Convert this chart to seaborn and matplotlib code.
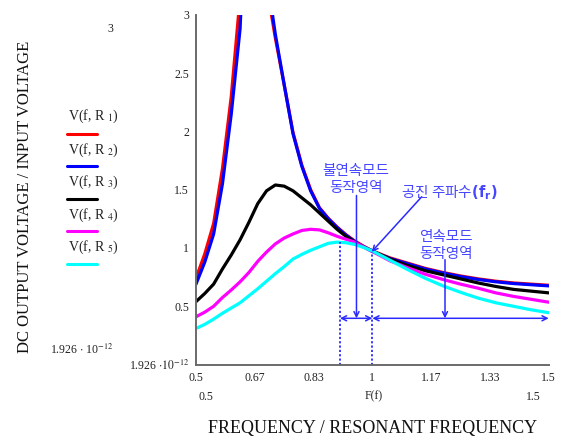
import numpy as np
import pandas as pd
import matplotlib
matplotlib.use("Agg")
import matplotlib.pyplot as plt
from matplotlib.lines import Line2D
import seaborn as sns

# ---------------- data ----------------
freq = [0.5, 0.525, 0.55, 0.575, 0.6, 0.625, 0.65, 0.675, 0.7, 0.725, 0.75,
        0.775, 0.8, 0.825, 0.85, 0.875, 0.9, 0.925, 0.95, 0.975, 1.0, 1.05,
        1.1, 1.15, 1.2, 1.25, 1.3, 1.35, 1.4, 1.45, 1.5]

v_r1 = [0.74, 0.95, 1.21, 1.68, 2.30, 3.15, 4.6, 4.6, 3.25, 2.80, 2.40,
        1.99, 1.71, 1.50, 1.345, 1.255, 1.18, 1.115, 1.06, 1.015, 0.975, 0.915,
        0.87, 0.825, 0.79, 0.76, 0.735, 0.715, 0.70, 0.69, 0.68]
v_r2 = [0.69, 0.88, 1.12, 1.55, 2.15, 2.88, 4.6, 4.6, 3.35, 2.83, 2.40,
        1.98, 1.70, 1.49, 1.34, 1.25, 1.175, 1.11, 1.055, 1.01, 0.97, 0.91,
        0.865, 0.82, 0.785, 0.755, 0.73, 0.71, 0.695, 0.685, 0.675]
v_r3 = [0.54, 0.61, 0.69, 0.82, 0.94, 1.07, 1.22, 1.38, 1.49, 1.54, 1.53,
        1.49, 1.43, 1.37, 1.30, 1.23, 1.16, 1.10, 1.05, 1.01, 0.975, 0.905,
        0.85, 0.805, 0.77, 0.735, 0.70, 0.67, 0.645, 0.63, 0.615]
v_r4 = [0.41, 0.45, 0.50, 0.575, 0.64, 0.71, 0.79, 0.885, 0.965, 1.035, 1.085,
        1.12, 1.15, 1.16, 1.155, 1.13, 1.10, 1.075, 1.05, 1.01, 0.97, 0.89,
        0.83, 0.775, 0.73, 0.69, 0.655, 0.615, 0.585, 0.56, 0.535]
v_r5 = [0.31, 0.345, 0.39, 0.44, 0.485, 0.53, 0.59, 0.65, 0.715, 0.78, 0.84,
        0.905, 0.945, 0.98, 1.01, 1.04, 1.05, 1.045, 1.03, 1.005, 0.975, 0.895,
        0.815, 0.74, 0.675, 0.62, 0.57, 0.53, 0.50, 0.47, 0.445]

series_names = ["R1", "R2", "R3", "R4", "R5"]
series_colors = ["#ff0000", "#0000ff", "#000000", "#ff00ff", "#00ffff"]
legend_subs = ["1", "2", "3", "4", "5"]

y_ticks = [0, 0.5, 1, 1.5, 2, 2.5, 3]
y_ticklabels = [r"1.926 $\cdot10^{-12}$", "0.5", "1", "1.5", "2", "2.5", "3"]
x_ticks = [0.5, 2/3, 5/6, 1.0, 7/6, 4/3, 1.5]
x_ticklabels = ["0.5", "0.67", "0.83", "1", "1.17", "1.33", "1.5"]

# annotation values
f_dcm = 0.908      # left dotted line
f_res = 1.0        # resonant frequency dotted line
v_dcm_top = 1.053
v_res_top = 0.967
f_arrow1 = 0.955
f_arrow2 = 1.206
v_harrow = 0.397

df = pd.DataFrame({
    "f": freq * 5,
    "V": v_r1 + v_r2 + v_r3 + v_r4 + v_r5,
    "R": sum([[n] * len(freq) for n in series_names], []),
})

# ---------------- figure ----------------
sns.set_style("white")
plt.rcParams["font.family"] = ["Liberation Serif", "DejaVu Sans"]
plt.rcParams["mathtext.fontset"] = "stix"

W, H = 565, 441
fig = plt.figure(figsize=(W / 100, H / 100), dpi=100)
fig.patch.set_facecolor("white")

def fx(px):
    return px / W

def fy(py):
    return 1 - py / H

ax = fig.add_axes([fx(196), fy(364.6), (548.7 - 196) / W, (364.6 - 14.7) / H])
ax.set_facecolor("white")

sns.lineplot(data=df, x="f", y="V", hue="R", palette=series_colors,
             hue_order=series_names, linewidth=2.3, legend=False, ax=ax,
             estimator=None, sort=False)

ax.set_xlim(0.5, 1.5)
ax.set_ylim(0, 3)
ax.set_xticks(x_ticks)
ax.set_xticklabels(x_ticklabels)
ax.set_yticks(y_ticks)
ax.set_yticklabels(y_ticklabels)
ax.set_xlabel("")
ax.set_ylabel("")
for s in ["top", "right"]:
    ax.spines[s].set_visible(False)
for s in ["left", "bottom"]:
    ax.spines[s].set_color("#6a6a6a")
    ax.spines[s].set_linewidth(1.4)
ax.tick_params(axis="both", direction="inout", length=7, width=1.0,
               color="#404040", labelsize=8.5, pad=1.5, labelcolor="#222222")

# ---------------- annotations ----------------
acol = "#2a2aff"
tcol = "#4646ff"
ax.plot([f_dcm, f_dcm], [0, v_dcm_top], color=acol, ls=(0, (1.2, 1.2)), lw=1.3)
ax.plot([f_res, f_res], [0, v_res_top], color=acol, ls=(0, (1.2, 1.2)), lw=1.3)

arr = dict(arrowstyle="->", color=acol, lw=1.1, shrinkA=0, shrinkB=0,
           mutation_scale=9)
ax.annotate("", xy=(f_arrow1, v_harrow), xytext=(f_arrow1, 1.45), arrowprops=arr)
ax.annotate("", xy=(f_arrow2, v_harrow), xytext=(f_arrow2, 0.90), arrowprops=arr)
arr2 = dict(arrowstyle="<->", color=acol, lw=1.1, shrinkA=0, shrinkB=0,
            mutation_scale=9)
ax.annotate("", xy=(f_dcm, v_harrow), xytext=(f_res, v_harrow), arrowprops=arr2)
ax.annotate("", xy=(f_res, v_harrow), xytext=(1.5, v_harrow), arrowprops=arr2)
ax.annotate("", xy=(0.998, v_res_top), xytext=(1.140, 1.439), arrowprops=arr)

kfont = ["Noto Sans CJK KR", "DejaVu Sans"]
ks = 10.5
ax.text(0.954, 1.661, "불연속모드", color=tcol, ha="center", va="center",
        family=kfont, fontsize=ks)
ax.text(0.954, 1.511, "동작영역", color=tcol, ha="center", va="center",
        family=kfont, fontsize=ks)
ax.text(1.081, 1.473, r"공진 주파수$\mathbf{(f_r)}$", color=tcol, ha="left",
        va="center", family=kfont, fontsize=ks, math_fontfamily="dejavusans")
ax.text(1.209, 1.091, "연속모드", color=tcol, ha="center", va="center",
        family=kfont, fontsize=ks)
ax.text(1.209, 0.945, "동작영역", color=tcol, ha="center", va="center",
        family=kfont, fontsize=ks)

# ---------------- outside texts ----------------
serif = ["Liberation Serif", "DejaVu Serif"]
fig.text(fx(25), fy(196.5), "DC OUTPUT VOLTAGE / INPUT VOLTAGE", rotation=90,
         ha="center", va="center", family=serif, fontsize=12, color="#111111")
fig.text(fx(373), fy(429), "FREQUENCY / RESONANT FREQUENCY", ha="center",
         va="center", family=serif, fontsize=13, color="#111111")
fig.text(fx(110), fy(29), "3", ha="center", va="center", family=serif,
         fontsize=8.5, color="#222222")
fig.text(fx(113), fy(350), r"1.926 $\cdot$ 10$^{-12}$", ha="right", va="center",
         family=serif, fontsize=8.5, color="#222222")
fig.text(fx(206), fy(396.7), "0.5", ha="center", va="center", family=serif,
         fontsize=8.5, color="#222222")
fig.text(fx(374), fy(396.7), "F(f)", ha="center", va="center", family=serif,
         fontsize=8.5, color="#222222")
fig.text(fx(533), fy(396.7), "1.5", ha="center", va="center", family=serif,
         fontsize=8.5, color="#222222")

# legend (Mathcad style)
text_y = [116.7, 150.5, 182.7, 215, 247]
line_y = [133.7, 166, 198.7, 231, 263.7]
for sub, c, ty, ly in zip(legend_subs, series_colors, text_y, line_y):
    fig.text(fx(68.5), fy(ty), "V(f, R $_{" + sub + "}$)", ha="left", va="center",
             family=serif, fontsize=10, color="#222222")
    fig.add_artist(Line2D([fx(67), fx(97)], [fy(ly), fy(ly)], color=c, lw=2.2,
                          transform=fig.transFigure))

fig.savefig("out.png", dpi=100, facecolor="white")
